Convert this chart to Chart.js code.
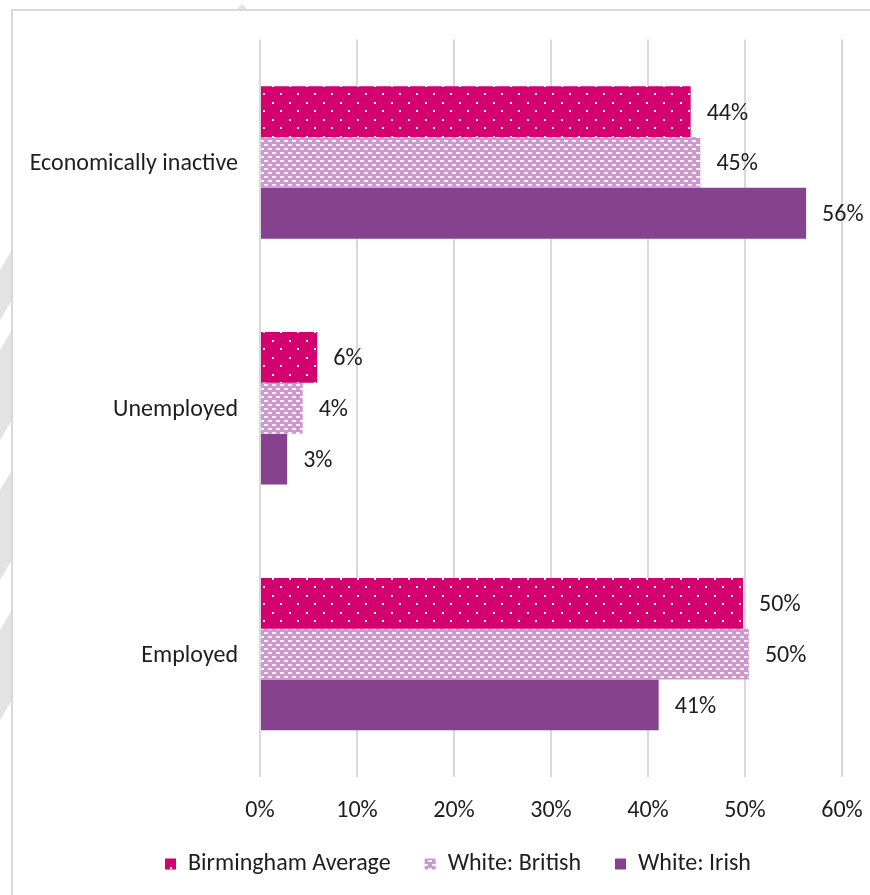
<!DOCTYPE html>
<html>
<head>
<meta charset="utf-8">
<script src="https://cdn.jsdelivr.net/npm/chart.js@4"></script>
<style>
  html, body { margin: 0; padding: 0; background: #fff; }
  #wrap { width: 870px; height: 895px; }
</style>
</head>
<body>
<div id="wrap"><canvas id="statusChart" width="870" height="895"></canvas></div>
<script>
// Estado económico por grupo
const categories = ['Economically inactive', 'Unemployed', 'Employed'];
const birminghamAvg = [44.4, 5.9, 49.8];
const whiteBritish = [45.4, 4.4, 50.4];
const whiteIrish = [56.3, 2.8, 41.1];
const xTicks = [0, 10, 20, 30, 40, 50, 60];

const FONT = 'Carlito, Calibri, Lato, sans-serif';
const SIZE = 24;
const TEXT = '#1e1e1e';

// Trama de puntos blancos sobre magenta
function dotPattern() {
  const c = document.createElement('canvas');
  c.width = 17; c.height = 17;
  const g = c.getContext('2d');
  g.fillStyle = '#d4006f';
  g.fillRect(0, 0, 17, 17);
  g.fillStyle = '#ffffff';
  g.fillRect(0, 0, 2, 2);
  g.fillRect(8, 8, 2, 2);
  return g.createPattern(c, 'repeat');
}

// Trama de guiones horizontales (ladrillo)
function dashPattern() {
  const c = document.createElement('canvas');
  c.width = 8; c.height = 8;
  const g = c.getContext('2d');
  g.fillStyle = '#cd99cd';
  g.fillRect(0, 0, 8, 8);
  g.fillStyle = '#f9f1f9';
  g.fillRect(0, 0, 4, 2);
  g.fillRect(4, 4, 4, 2);
  return g.createPattern(c, 'repeat');
}

// Marco y marca de agua del fondo; la leyenda se desplaza a la derecha
const backdrop = {
  id: 'backdrop',
  afterLayout(chart) {
    chart.legend.left = 74;
  },
  beforeDraw(chart) {
    const g = chart.ctx;
    g.save();
    g.fillStyle = '#e3e3e3';
    const bands = [[250, 300], [330, 420], [470, 560], [610, 700]];
    bands.forEach(([a, b]) => {
      g.beginPath();
      g.moveTo(0, a + 20);
      g.lineTo(12, a);
      g.lineTo(12, b);
      g.lineTo(0, b + 20);
      g.closePath();
      g.fill();
    });
    g.beginPath();
    g.moveTo(236, 10); g.lineTo(242, 4); g.lineTo(248, 10);
    g.fill();
    g.strokeStyle = '#d9d9d9';
    g.lineWidth = 2;
    g.strokeRect(12, 10, 870, 900);
    g.restore();
  }
};

// Etiquetas de valor al final de cada barra
const valueLabels = {
  id: 'valueLabels',
  afterDatasetsDraw(chart) {
    const g = chart.ctx;
    g.save();
    g.font = SIZE + 'px ' + FONT;
    g.fillStyle = TEXT;
    g.textAlign = 'left';
    g.textBaseline = 'middle';
    chart.data.datasets.forEach((ds, i) => {
      chart.getDatasetMeta(i).data.forEach((bar, j) => {
        g.fillText(Math.round(ds.data[j]) + '%', bar.x + 16, bar.y + 2);
      });
    });
    g.restore();
  }
};

const ctx = document.getElementById('statusChart').getContext('2d');
const statusChart = new Chart(ctx, {
  type: 'bar',
  data: {
    labels: categories,
    datasets: [
      { label: 'Birmingham Average', data: birminghamAvg, backgroundColor: dotPattern() },
      { label: 'White: British', data: whiteBritish, backgroundColor: dashPattern() },
      { label: 'White: Irish', data: whiteIrish, backgroundColor: '#86428e' }
    ]
  },
  options: {
    indexAxis: 'y',
    responsive: false,
    animation: false,
    categoryPercentage: 0.62,
    barPercentage: 1,
    layout: { padding: { top: 39.5, right: 28, bottom: 9, left: 0 } },
    plugins: {
      tooltip: { enabled: false },
      legend: {
        position: 'bottom',
        labels: {
          font: { family: FONT, size: SIZE },
          color: TEXT,
          boxWidth: 11,
          boxHeight: 11,
          padding: 34
        }
      }
    },
    scales: {
      x: {
        min: 0,
        max: 60,
        afterBuildTicks(scale) {
          scale.ticks = xTicks.map(v => ({ value: v }));
        },
        afterFit(scale) {
          scale.height = 41;
          scale.paddingLeft = 0;
          scale.paddingRight = 0;
        },
        ticks: {
          callback: v => v + '%',
          font: { family: FONT, size: SIZE },
          color: TEXT,
          padding: 20,
          maxRotation: 0
        },
        grid: { color: '#d9d9d9', lineWidth: 2, drawTicks: false },
        border: { display: false }
      },
      y: {
        afterFit(scale) { scale.width = 260; },
        ticks: {
          font: { family: FONT, size: SIZE },
          color: TEXT,
          padding: 22,
          labelOffset: 2
        },
        grid: { display: false, drawTicks: false },
        border: { display: false }
      }
    }
  },
  plugins: [backdrop, valueLabels]
});
</script>
</body>
</html>
